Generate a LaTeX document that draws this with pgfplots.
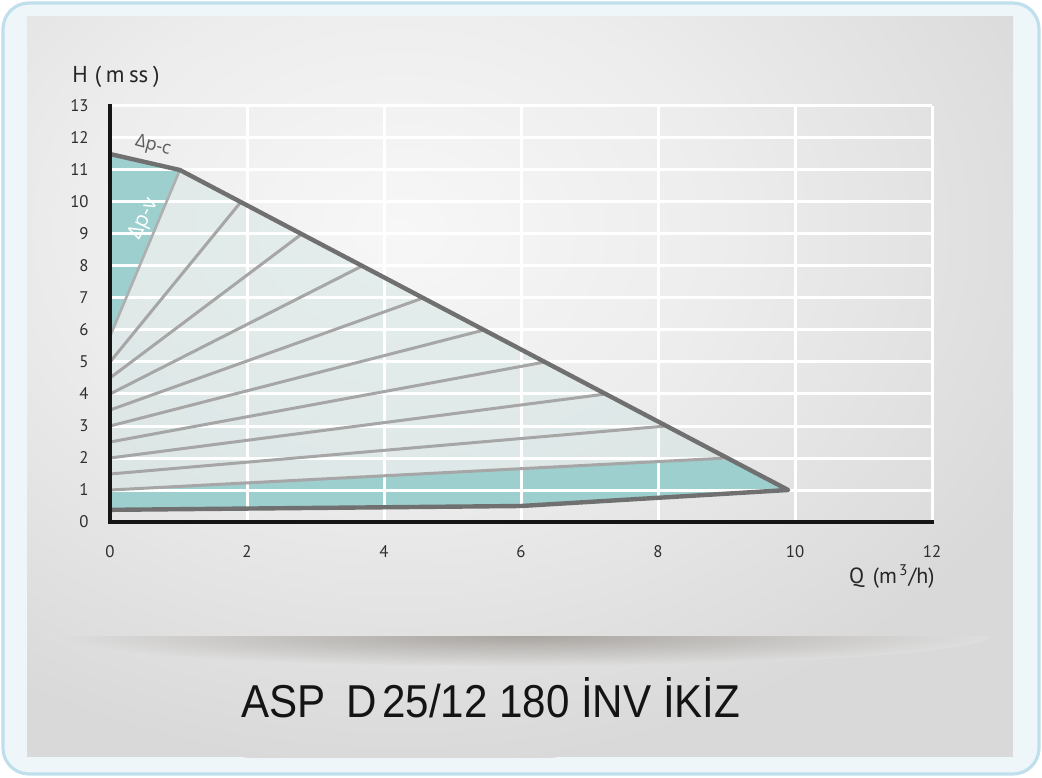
\documentclass[border=0pt]{standalone}
\usepackage{pgfplots}
\pgfplotsset{compat=1.18}
\usepackage{graphicx}
\usepackage{fontspec}
\setmainfont{PT Sans}
\newfontfamily\deltafont{Open Sans}
\newfontfamily\titlefont{Liberation Sans}

\definecolor{cardline}{HTML}{BFDFEC}
\definecolor{cardfill}{HTML}{EEF6F9}
\definecolor{panel}{HTML}{D9D9D9}
\definecolor{panelmid}{HTML}{EDEDED}
\definecolor{panelhi}{HTML}{F7F7F7}
\definecolor{panelshelf}{HTML}{DEDEDE}
\definecolor{shadowcol}{HTML}{A9A5A0}
\definecolor{pumpteal}{HTML}{9CCFCD}
\definecolor{pumplight}{HTML}{CFE4E2}
\definecolor{speedgray}{HTML}{A6A6A6}
\definecolor{boundgray}{HTML}{707070}
\definecolor{axisblack}{HTML}{151515}
\definecolor{ticktext}{HTML}{2E2E2E}

% radial shadings: the path edge sits at 25bp
\pgfdeclareradialshading{panelglow}{\pgfpoint{0bp}{0bp}}%
  {color(0bp)=(panelhi); color(11bp)=(panelmid); color(25bp)=(panel); color(50bp)=(panel)}
\pgfdeclareradialshading{shelfshadow}{\pgfpoint{0bp}{0bp}}%
  {color(0bp)=(shadowcol); color(25bp)=(panelshelf); color(50bp)=(panelshelf)}

\begin{document}
\begin{tikzpicture}
% card and grey panel (pixel-like units, y downwards)
\begin{scope}[yshift=388.5pt, x=0.5pt, y=-0.5pt]
  \useasboundingbox (0,0) rectangle (1042,777);
  \filldraw[fill=cardfill, draw=cardline, line width=1.6pt, rounded corners=13pt]
    (3,3) rectangle (1039,774);
  \fill[panel] (27,17) rectangle (1013,757);
  \begin{scope}
    \clip (27,17) rectangle (1013,757);
    \shade[shading=panelglow] (400,230) ellipse (720 and 540);
  \end{scope}
  \begin{scope}
    \clip (27,636) rectangle (1013,757);
    \shade[shading=shelfshadow] (520,636) ellipse (470 and 30);
  \end{scope}
\end{scope}

\begin{axis}[
  at={(55pt,127.5pt)}, anchor=south west,
  scale only axis, width=411pt, height=208pt,
  xmin=0, xmax=12, ymin=0, ymax=13,
  axis lines=left,
  axis line style={-, line width=2.3pt, color=axisblack, line cap=rect},
  axis on top,
  xtick={0,2,...,12}, ytick={0,1,...,13},
  major tick length=0pt,
  tick style={draw=none},
  ticklabel style={font=\fontsize{8.4}{9}\selectfont, text=ticktext},
  /pgf/number format/assume math mode=true,
  xticklabel style={anchor=north, inner sep=0pt, yshift=-11.5pt},
  yticklabel style={anchor=east, inner sep=0pt, xshift=-10.5pt},
  clip=false,
]
% operating areas
\addplot[draw=none, fill=pumpteal] coordinates {(0,11.5) (1.02,11.0) (0,5.8)};
\addplot[draw=none, fill=pumplight, fill opacity=0.45]
  coordinates {(0,5.8) (1.02,11.0) (9.9,1.0) (9.01,2.0) (0,1.0)};
\addplot[draw=none, fill=pumpteal]
  coordinates {(0,1.0) (9.01,2.0) (9.9,1.0) (6,0.5) (0,0.38)};
% grid
\pgfplotsinvokeforeach{1,...,13}{
  \addplot[white, line width=1.5pt] coordinates {(0,#1) (12,#1)};
}
\pgfplotsinvokeforeach{2,4,...,12}{
  \addplot[white, line width=1.5pt] coordinates {(#1,0) (#1,13)};
}
% speed curves
\addplot[speedgray, line width=1.5pt] coordinates {(0,5.0) (1.91,10.0)};
\addplot[speedgray, line width=1.5pt] coordinates {(0,4.5) (2.80,9.0)};
\addplot[speedgray, line width=1.5pt] coordinates {(0,4.0) (3.68,8.0)};
\addplot[speedgray, line width=1.5pt] coordinates {(0,3.5) (4.57,7.0)};
\addplot[speedgray, line width=1.5pt] coordinates {(0,3.0) (5.46,6.0)};
\addplot[speedgray, line width=1.5pt] coordinates {(0,2.5) (6.35,5.0)};
\addplot[speedgray, line width=1.5pt] coordinates {(0,2.0) (7.24,4.0)};
\addplot[speedgray, line width=1.5pt] coordinates {(0,1.5) (8.12,3.0)};
\addplot[speedgray, line width=1.5pt] coordinates {(0,1.0) (9.01,2.0)};
% delta p-v
\addplot[speedgray!90!white, line width=1.3pt] coordinates {(0,5.8) (1.02,11.0)};
% envelope
\addplot[boundgray, line width=2.2pt, line join=round]
  coordinates {(0,11.5) (1.02,11.0) (9.9,1.0) (6,0.5) (0,0.38)};
\end{axis}

\begin{scope}[yshift=388.5pt, x=0.5pt, y=-0.5pt]
  \node[anchor=base west, inner sep=0pt, text=black!85, font=\fontsize{11.5}{12}\selectfont]
    at (72,83) {H\hspace{0.3em}(\hspace{0.2em}m\hspace{0.2em}ss\hspace{0.2em})};
  \node[anchor=base east, inner sep=0pt, text=black!85, font=\fontsize{11}{12}\selectfont]
    at (935,583) {Q\hspace{0.4em}(m\hspace{0.1em}\textsuperscript{3}/h)};
  \node[rotate=-15, inner sep=0pt, text=black!65, font=\deltafont\fontsize{9}{10}\selectfont]
    at (153,146) {Δp-c};
  \node[rotate=64, inner sep=0pt, text=white, font=\deltafont\fontsize{10.5}{11}\selectfont]
    at (144,219) {Δp-v};
  \node[anchor=base west, inner sep=0pt, text=black!92] at (241,717)
    {\resizebox{249.5pt}{20pt}{\titlefont ASP\hspace{0.5em}D\hspace{0.12em}25/12 180 İNV İKİZ}};
\end{scope}
\end{tikzpicture}
\end{document}
